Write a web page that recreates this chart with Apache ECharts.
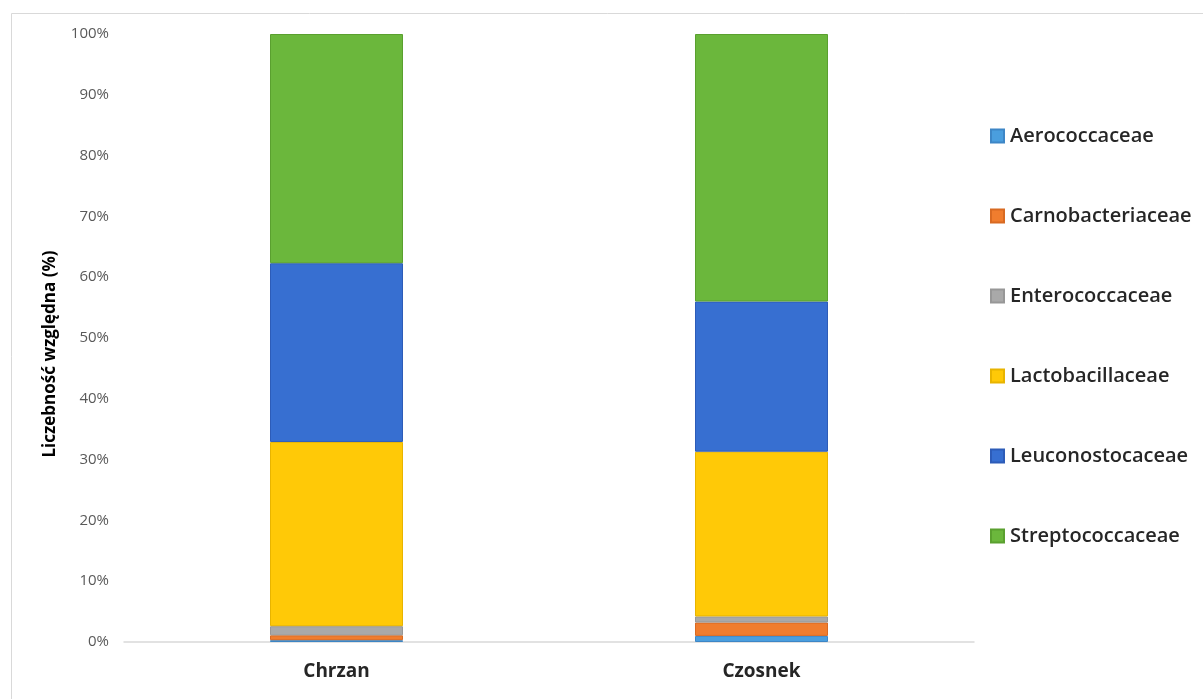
<!DOCTYPE html>
<html>
<head>
<meta charset="utf-8">
<script src="https://cdn.jsdelivr.net/npm/echarts@6/dist/echarts.min.js"></script>
<style>
html,body{margin:0;padding:0;background:#fff;}
#chart{width:1203px;height:699px;}
</style>
</head>
<body>
<div id="chart"></div>
<script>
const categories = ['Chrzan', 'Czosnek'];
const seriesNames = ['Aerococcaceae', 'Carnobacteriaceae', 'Enterococcaceae', 'Lactobacillaceae', 'Leuconostocaceae', 'Streptococcaceae'];
const aerococcaceae = [0.3, 1.0];
const carnobacteriaceae = [0.8, 2.2];
const enterococcaceae = [1.5, 1.0];
const lactobacillaceae = [30.3, 27.1];
const leuconostocaceae = [29.4, 24.7];
const streptococcaceae = [37.7, 44.0];
const yTicks = [0, 10, 20, 30, 40, 50, 60, 70, 80, 90, 100];

const values = [aerococcaceae, carnobacteriaceae, enterococcaceae, lactobacillaceae, leuconostocaceae, streptococcaceae];
const colors = ['#4A9EDE', '#F07D2E', '#A9A9A9', '#FFC907', '#376FD1', '#6BB73C'];
const borders = ['#3D86C6', '#D86A22', '#979797', '#E8B400', '#2D5CB8', '#5AA02F'];

const chart = echarts.init(document.getElementById('chart'));
chart.setOption({
  animation: false,
  backgroundColor: '#fff',
  graphic: [{
    type: 'rect',
    shape: {x: 11.5, y: 13.5, width: 1400, height: 900},
    style: {fill: 'none', stroke: '#D9D9D9', lineWidth: 1},
    silent: true
  }],
  grid: {left: 124, right: 229, top: 34, bottom: 57},
  legend: {
    orient: 'vertical',
    left: 985,
    top: 120,
    itemWidth: 13,
    itemHeight: 13,
    itemGap: 58,
    icon: 'rect',
    data: seriesNames,
    textStyle: {fontFamily: 'Open Sans', fontSize: 20, fontWeight: 600, color: '#262626', lineHeight: 22, padding: [0, 0, 0, 1]}
  },
  xAxis: {
    type: 'category',
    data: categories,
    axisLine: {lineStyle: {color: '#D9D9D9', width: 1.5}},
    axisTick: {show: false},
    axisLabel: {fontFamily: 'Open Sans', fontSize: 19, fontWeight: 'bold', color: '#262626', margin: 20}
  },
  yAxis: {
    type: 'value',
    min: yTicks[0],
    max: yTicks[yTicks.length - 1],
    interval: 10,
    name: 'Liczebność względna (%)',
    nameLocation: 'middle',
    nameGap: 65,
    nameTextStyle: {fontFamily: 'Open Sans', fontSize: 17, fontWeight: 'bold', color: '#000', padding: [0, 32, 0, 0]},
    axisLine: {show: false},
    axisTick: {show: false},
    splitLine: {show: false},
    axisLabel: {formatter: '{value}%', fontFamily: 'Open Sans', fontSize: 15, color: '#595959', margin: 15}
  },
  series: seriesNames.map((n, i) => ({
    name: n,
    type: 'bar',
    stack: 'total',
    data: values[i],
    barWidth: 133,
    itemStyle: {color: colors[i], borderColor: borders[i], borderWidth: 1}
  }))
});
</script>
</body>
</html>
